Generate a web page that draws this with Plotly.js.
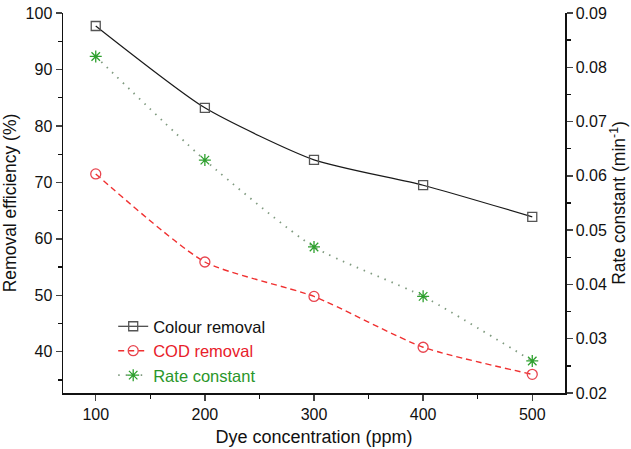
<!DOCTYPE html>
<html>
<head>
<meta charset="utf-8">
<script src="https://cdn.plot.ly/plotly-3.0.1.min.js"></script>
<style>html,body{margin:0;padding:0;background:#fff;}#chart{width:631px;height:449px;}</style>
</head>
<body>
<div id="chart"></div>
<script>
const dyeConcentration = [100, 200, 300, 400, 500];
const colourRemoval = [97.7, 83.2, 74.0, 69.5, 63.9];
const codRemoval = [71.5, 55.9, 49.8, 40.8, 36.0];
const rateConstant = [0.082, 0.0629, 0.0469, 0.0378, 0.0259];

const FONT = 'Liberation Sans, Arial, sans-serif';
const traces = [
  {
    x: dyeConcentration, y: colourRemoval, name: 'Colour removal',
    mode: 'lines+markers', line: {color: '#1a1a1a', width: 1.2, shape: 'spline', smoothing: 0.6},
    marker: {symbol: 'square-open', size: 9, color: '#555555', line: {width: 1.3}}
  },
  {
    x: dyeConcentration, y: codRemoval, name: '<span style="color:#e8202a">COD removal</span>',
    mode: 'lines+markers', line: {color: '#f03030', width: 1.4, dash: '6px,4px', shape: 'spline', smoothing: 0.6},
    marker: {symbol: 'circle-open', size: 10, color: '#e8454f', line: {width: 1.3}}
  },
  {
    x: dyeConcentration, y: rateConstant, name: '<span style="color:#2a962a">Rate constant</span>',
    yaxis: 'y2',
    mode: 'lines+markers', line: {color: '#7f9a7f', width: 1.8, dash: '1.5px,6px', shape: 'spline', smoothing: 0.6},
    marker: {symbol: 'asterisk-open', size: 10, color: '#2ea02e', line: {width: 1.3, color: '#2ea02e'}}
  }
];

const layout = {
  width: 631, height: 449,
  margin: {l: 63, r: 66, t: 13, b: 56},
  paper_bgcolor: '#fff', plot_bgcolor: '#fff',
  font: {family: FONT, size: 16, color: '#111'},
  showlegend: true,
  legend: {x: 0.1, y: 0.0, xanchor: 'left', yanchor: 'bottom', bgcolor: 'rgba(0,0,0,0)',
           font: {family: FONT, size: 16.5, color: '#111'}, tracegroupgap: 0, itemwidth: 30},
  xaxis: {
    range: [70, 530], tickvals: dyeConcentration, ticks: 'outside', ticklen: 6, tickwidth: 1.3,
    minor: {dtick: 50, tick0: 50, ticks: 'outside', ticklen: 4, tickwidth: 1.3, tickcolor: '#111'},
    showline: true, linecolor: '#111', linewidth: 1.5, showgrid: false, zeroline: false,
    tickfont: {family: FONT, size: 16},
    title: {text: 'Dye concentration (ppm)', font: {family: FONT, size: 18}, standoff: 8}
  },
  xaxis2: {
    overlaying: 'x', side: 'top', anchor: 'y', range: [70, 530], dtick: 50, tick0: 0,
    ticks: 'inside', ticklen: 5, tickwidth: 1.3, tickcolor: '#111', showticklabels: false,
    showline: true, linecolor: '#111', linewidth: 1.5, showgrid: false, zeroline: false
  },
  yaxis: {
    range: [32.7, 100], dtick: 10, tick0: 0, ticks: 'outside', ticklen: 6, tickwidth: 1.3,
    minor: {dtick: 5, ticks: 'outside', ticklen: 4, tickwidth: 1.3, tickcolor: '#111'},
    showline: true, linecolor: '#111', linewidth: 1.5, showgrid: false, zeroline: false,
    tickfont: {family: FONT, size: 16},
    title: {text: 'Removal efficiency (%)', font: {family: FONT, size: 17.5}, standoff: 7}
  },
  yaxis2: {
    overlaying: 'y', side: 'right', anchor: 'x', range: [0.02, 0.09], dtick: 0.01, tick0: 0,
    tickformat: '.2f', ticks: 'outside', ticklen: 6, tickwidth: 1.3,
    minor: {dtick: 0.005, ticks: 'outside', ticklen: 4, tickwidth: 1.3, tickcolor: '#111'},
    showline: true, linecolor: '#111', linewidth: 1.5, showgrid: false, zeroline: false,
    tickfont: {family: FONT, size: 16},
    title: {text: 'Rate constant (min<sup>-1</sup>)', font: {family: FONT, size: 17.5}, standoff: 7}
  }
};

Plotly.newPlot('chart', traces, layout, {displayModeBar: false, staticPlot: true});
</script>
</body>
</html>
